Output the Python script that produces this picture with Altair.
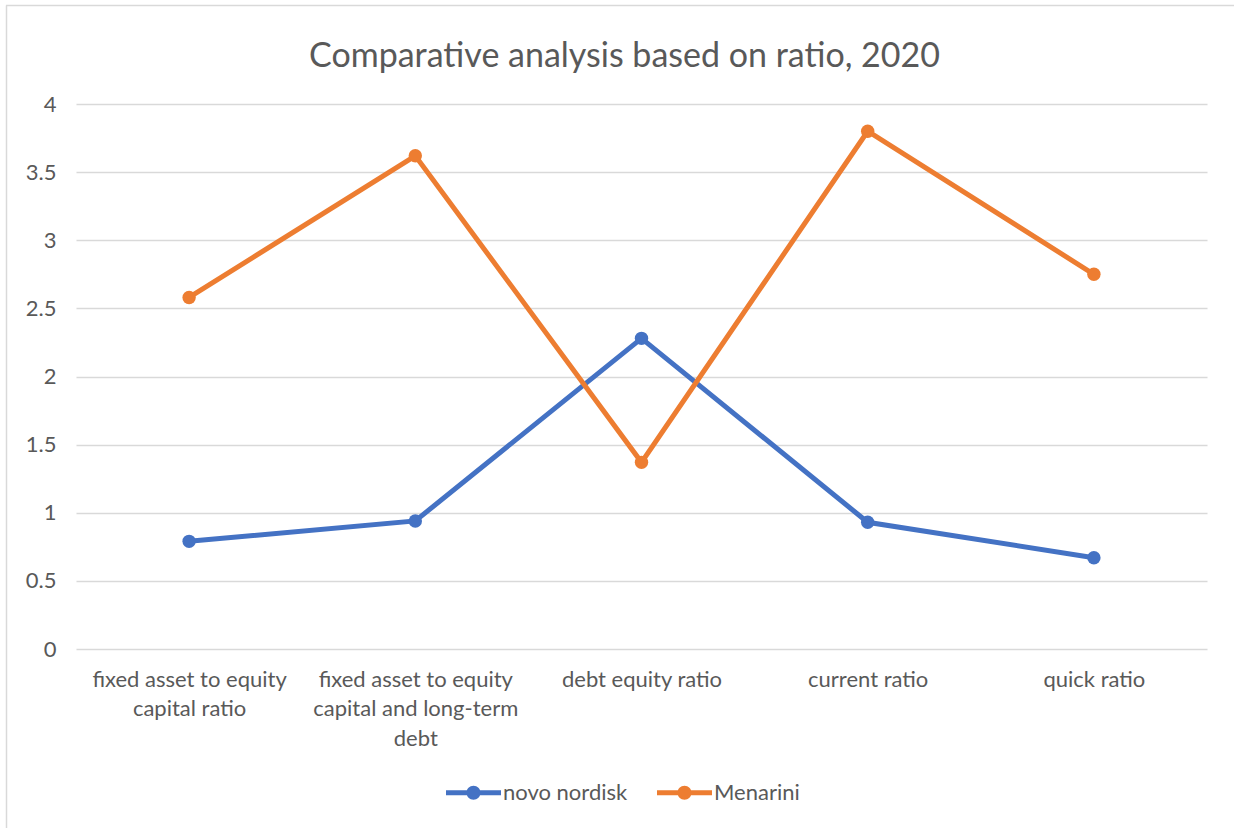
import altair as alt
import pandas as pd

# ---- data ----
categories = [
    "fixed asset to equity capital ratio",
    "fixed asset to equity capital and long-term debt",
    "debt equity ratio",
    "current ratio",
    "quick ratio",
]
category_lines = [
    ["fixed asset to equity", "capital ratio"],
    ["fixed asset to equity", "capital and long-term", "debt"],
    ["debt equity ratio"],
    ["current ratio"],
    ["quick ratio"],
]
series_names = ["novo nordisk", "Menarini"]
novo_nordisk = [0.79, 0.94, 2.28, 0.93, 0.67]
menarini = [2.58, 3.62, 1.37, 3.80, 2.75]
series_colors = ["#4472C4", "#ED7D31"]
y_ticks = [0, 0.5, 1, 1.5, 2, 2.5, 3, 3.5, 4]
title_text = "Comparative analysis based on ratio, 2020"

rows = []
for name, vals in zip(series_names, [novo_nordisk, menarini]):
    for c, v in zip(categories, vals):
        rows.append({"category": c, "series": name, "value": v})
df = pd.DataFrame(rows)

# label expression that wraps x labels into lines
expr = "[datum.label]"
for c, lines in reversed(list(zip(categories, category_lines))):
    arr = "[" + ",".join("'" + l + "'" for l in lines) + "]"
    expr = f"datum.label == '{c}' ? {arr} : ({expr})"

FONT = "Lato"
TXT = "#595959"
GRID = "#d9d9d9"
FS = 22

x_enc = alt.X(
    "category:N",
    sort=categories,
    scale=alt.Scale(padding=0.5),
    axis=alt.Axis(
        title=None, labelAngle=0, grid=False, ticks=False, domain=False,
        labelExpr=expr, labelFont=FONT, labelFontSize=FS, labelColor=TXT,
        labelPadding=20, labelLineHeight=29.5, labelBaseline="top",
        labelLimit=0,
    ),
)
y_enc = alt.Y(
    "value:Q",
    scale=alt.Scale(domain=[0, 4], nice=False),
    axis=alt.Axis(
        title=None, values=y_ticks, format="~g", grid=True, gridColor=GRID,
        gridWidth=1.5, ticks=False, domain=False, labelFont=FONT,
        labelFontSize=FS, labelColor=TXT, labelPadding=20,
    ),
)

legend_path = (
    "M-1,-0.091 L1,-0.091 L1,0.091 L-1,0.091 Z "
    "M0.2545,0 A0.2545,0.2545 0 1,1 -0.2545,0 A0.2545,0.2545 0 1,1 0.2545,0 Z"
)

base = alt.Chart(df)
line_layers = [
    base.transform_filter(alt.datum.series == name)
    .mark_line(strokeWidth=5, color=col)
    .encode(x=x_enc, y=y_enc)
    for name, col in zip(series_names, series_colors)
]
points = base.mark_point(filled=True, size=180, opacity=1).encode(
    x=x_enc, y=y_enc,
    color=alt.Color(
        "series:N", scale=alt.Scale(domain=series_names, range=series_colors),
        sort=series_names,
        legend=alt.Legend(
            title=None, orient="none", direction="horizontal",
            legendX=370, legendY=661, symbolType=legend_path,
            symbolSize=3025, symbolStrokeWidth=0, symbolOpacity=1,
            labelFont=FONT, labelFontSize=FS, labelColor=TXT,
            labelOffset=2, columnPadding=29,
        ),
    ),
)

frame_df = pd.DataFrame({"a": [0]})
frame_left = alt.Chart(frame_df).mark_rule(color=GRID, strokeWidth=1.5).encode(
    x=alt.value(-69.5), y=alt.value(-98.5), y2=alt.value(740)
)
frame_top = alt.Chart(frame_df).mark_rule(color=GRID, strokeWidth=1.5).encode(
    x=alt.value(-70), x2=alt.value(1170), y=alt.value(-98.5)
)
title_mark = alt.Chart(frame_df).mark_text(
    font=FONT, fontSize=34, color=TXT, align="center", baseline="middle"
).encode(
    x=alt.value(548.5), y=alt.value(-47), text=alt.value(title_text)
)

chart = (
    alt.layer(frame_left, frame_top, title_mark, *line_layers, points)
    .properties(
        width=1131,
        height=545,
        autosize=alt.AutoSizeParams(type="none"),
        padding={"left": 76, "top": 104, "right": 27, "bottom": 179},
        background="white",
    )
    .configure_view(stroke=None)
)

chart.save("out.html", embed_options={"renderer": "svg", "actions": False})
